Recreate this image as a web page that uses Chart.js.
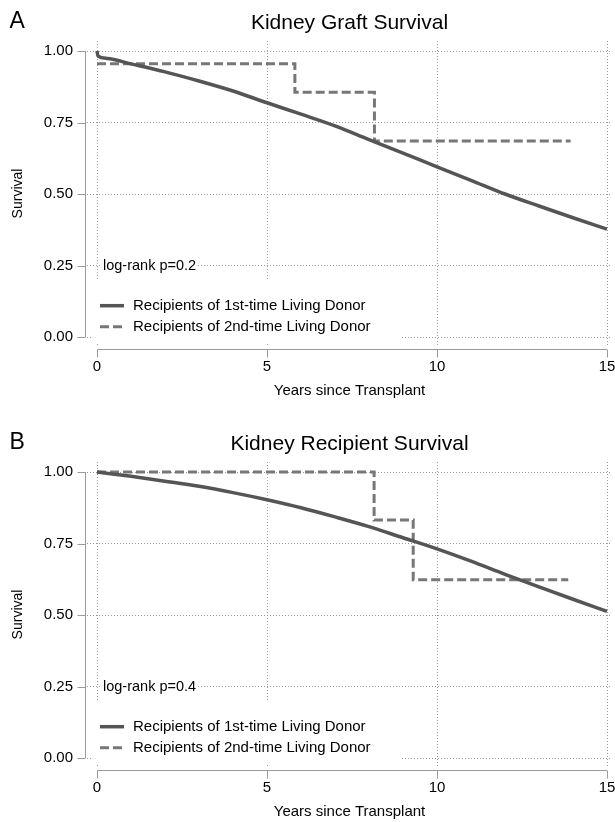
<!DOCTYPE html>
<html><head><meta charset="utf-8">
<script src="https://cdn.jsdelivr.net/npm/chart.js@4/dist/chart.umd.min.js"></script>
<style>
html,body{margin:0;padding:0;background:#fff;overflow:hidden;}
#wrap{position:relative;width:615px;height:822px;background:#fff;}
.pane{position:absolute;left:0;width:615px;}
canvas{display:block;}
</style></head><body>
<div id="wrap">
<div class="pane" style="top:0;height:421px"><canvas id="cA"></canvas></div>
<div class="pane" style="top:421px;height:401px"><canvas id="cB"></canvas></div>
</div>
<script>
// ---- data ----
const xTicks = [0, 5, 10, 15];
const yTicks = [0, 0.25, 0.5, 0.75, 1];
const seriesNames = ["Recipients of 1st-time Living Donor", "Recipients of 2nd-time Living Donor"];

const graftFirstT = [0, 0.03, 0.3, 1, 2, 3, 4, 5, 6, 7, 8, 9, 10, 11, 12, 13, 14, 15];
const graftFirstS = [1.0, 0.982, 0.974, 0.955, 0.927, 0.895, 0.860, 0.819, 0.779, 0.738, 0.690, 0.643, 0.595, 0.548, 0.500, 0.458, 0.417, 0.377];
const graftSecondT = [0, 5.82, 8.16, 13.93];
const graftSecondS = [0.955, 0.856, 0.685, 0.685];

const recipFirstT = [0, 1, 2, 3, 4, 5, 6, 7, 8, 9, 10, 11, 12, 13, 14, 15];
const recipFirstS = [1.0, 0.985, 0.968, 0.950, 0.928, 0.903, 0.875, 0.843, 0.809, 0.770, 0.731, 0.688, 0.642, 0.598, 0.555, 0.513];
const recipSecondT = [0, 8.15, 9.30, 13.86];
const recipSecondS = [1.0, 0.832, 0.623, 0.623];

// ---- drawing ----
const FONT = '"Liberation Sans", Arial, Helvetica, sans-serif';
const AXIS = '#9a9a9a';
function pts(t, s) { return t.map((x, i) => ({ x: x, y: s[i] })); }

const panelPlugin = {
  id: 'panel',
  afterDraw(chart, args, o) {
    const ctx = chart.ctx, xs = chart.scales.x, ys = chart.scales.y, ca = chart.chartArea;
    ctx.save();
    // axis lines + tick marks
    ctx.strokeStyle = AXIS; ctx.lineWidth = 1; ctx.setLineDash([]);
    const xAx = Math.round(ca.left - 2) + 0.5;
    ctx.beginPath();
    ctx.moveTo(xAx, ys.getPixelForValue(yTicks[yTicks.length - 1]));
    ctx.lineTo(xAx, ys.getPixelForValue(yTicks[0]));
    yTicks.forEach(v => { const p = Math.round(ys.getPixelForValue(v)) + 0.5; ctx.moveTo(xAx - 8, p); ctx.lineTo(xAx, p); });
    const yAx = Math.round(ca.bottom + 3) + 0.5;
    ctx.moveTo(xs.getPixelForValue(xTicks[0]), yAx);
    ctx.lineTo(xs.getPixelForValue(xTicks[xTicks.length - 1]), yAx);
    xTicks.forEach(v => { const p = Math.round(xs.getPixelForValue(v)) + 0.5; ctx.moveTo(p, yAx); ctx.lineTo(p, yAx + 8); });
    ctx.stroke();

    const x0 = xs.getPixelForValue(0), y0 = ys.getPixelForValue(0);
    // log-rank text
    ctx.font = '14.5px ' + FONT;
    ctx.textBaseline = 'middle'; ctx.textAlign = 'left';
    const ly = ys.getPixelForValue(0.25);
    const tw = ctx.measureText(o.pText).width;
    ctx.fillStyle = '#fff';
    ctx.fillRect(x0 + 5, ly - 8, tw + 2, 16);
    ctx.fillStyle = '#000';
    ctx.fillText(o.pText, x0 + 6, ly);

    // legend
    ctx.fillStyle = '#fff';
    ctx.fillRect(x0 - 5, y0 - 58, 310, ca.bottom - 2 - (y0 - 58));
    const rows = [y0 - 31.3, y0 - 10.3];
    chart.data.datasets.forEach((ds, i) => {
      ctx.strokeStyle = ds.borderColor; ctx.lineWidth = ds.borderWidth;
      ctx.setLineDash(ds.borderDash || []);
      ctx.beginPath(); ctx.moveTo(x0 + 3, rows[i]); ctx.lineTo(x0 + 27, rows[i]); ctx.stroke();
      ctx.setLineDash([]);
      ctx.fillStyle = '#000'; ctx.font = '15px ' + FONT;
      ctx.fillText(ds.label, x0 + 36, rows[i]);
    });

    // panel letter
    ctx.fillStyle = '#000'; ctx.font = '23px ' + FONT; ctx.textBaseline = 'alphabetic';
    ctx.fillText(o.letter, 9.5, 28);
    ctx.restore();
  }
};

function make(id, H, letter, title, pText, first, second) {
  const c = document.getElementById(id);
  c.width = 615; c.height = H;
  return new Chart(c, {
    type: 'line',
    data: { datasets: [
      { label: seriesNames[0], data: first, borderColor: '#555555', borderWidth: 3.5, pointRadius: 0, cubicInterpolationMode: 'monotone', fill: false },
      { label: seriesNames[1], data: second, borderColor: '#777777', borderWidth: 3, borderDash: [9, 4], pointRadius: 0, stepped: 'before', fill: false }
    ] },
    options: {
      responsive: false, animation: false, events: [],
      layout: { padding: { left: 0, right: 3, top: 0, bottom: 0 } },
      plugins: {
        legend: { display: false }, tooltip: { enabled: false },
        title: { display: true, text: title, fullSize: false, color: '#000',
          font: { family: FONT, size: 21, weight: 'normal' }, padding: { top: 10.4, bottom: 5.4 } },
        panel: { letter: letter, pText: pText }
      },
      scales: {
        x: {
          type: 'linear', min: -10 / 34, max: 15 + 5 / 34,
          afterBuildTicks: s => { s.ticks = xTicks.map(v => ({ value: v })); },
          afterFit: s => { s.height = H - 346; s.paddingLeft = 0; s.paddingRight = 0; },
          grid: { color: '#9a9a9a', lineWidth: 1, drawTicks: false },
          border: { display: false, dash: [1, 2] },
          ticks: { autoSkip: false, maxRotation: 0, padding: 12, color: '#000',
            font: { family: FONT, size: 15 }, callback: v => String(v) },
          title: { display: true, text: 'Years since Transplant', color: '#000',
            font: { family: FONT, size: 15 }, padding: { top: 0, bottom: H - 391 - 9 } }
        },
        y: {
          type: 'linear', min: -9 / 286, max: 1 + 10 / 286,
          afterBuildTicks: s => { s.ticks = yTicks.map(v => ({ value: v })); },
          afterFit: s => { s.width = 87; s.paddingTop = 0; s.paddingBottom = 0; },
          grid: { color: '#9a9a9a', lineWidth: 1, drawTicks: false },
          border: { display: false, dash: [1, 2] },
          ticks: { autoSkip: false, padding: 14, color: '#000',
            font: { family: FONT, size: 15 }, callback: v => Number(v).toFixed(2) },
          title: { display: true, text: 'Survival', color: '#000',
            font: { family: FONT, size: 14 }, padding: { top: 10, bottom: 0 } }
        }
      }
    },
    plugins: [panelPlugin]
  });
}

make('cA', 421, 'A', 'Kidney Graft Survival', 'log-rank p=0.2', pts(graftFirstT, graftFirstS), pts(graftSecondT, graftSecondS));
make('cB', 401, 'B', 'Kidney Recipient Survival', 'log-rank p=0.4', pts(recipFirstT, recipFirstS), pts(recipSecondT, recipSecondS));
</script>
</body></html>
